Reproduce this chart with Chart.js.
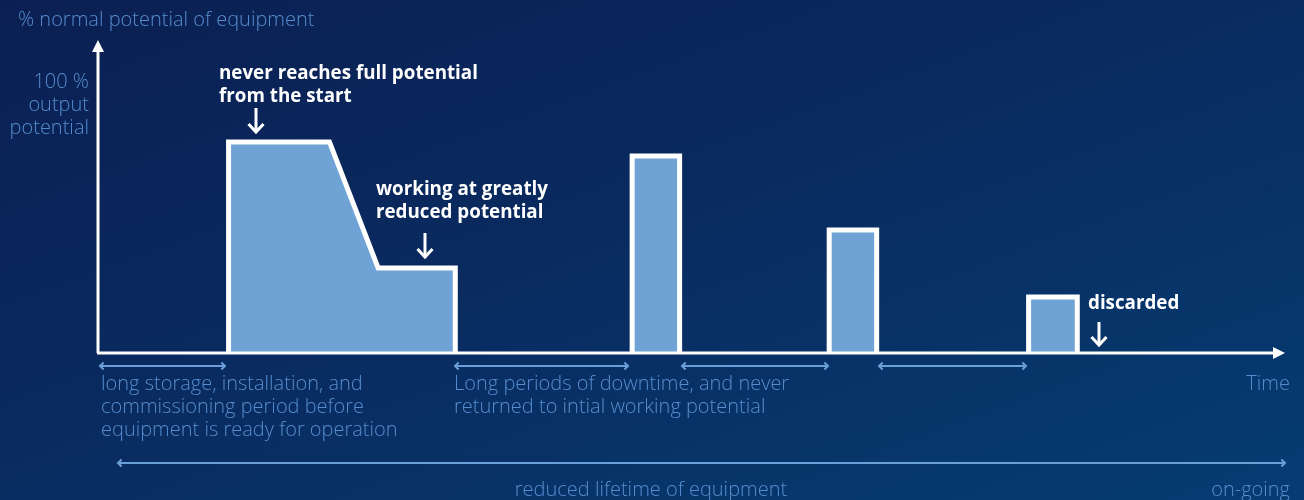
<!DOCTYPE html>
<html>
<head>
<meta charset="utf-8">
<script src="https://cdn.jsdelivr.net/npm/chart.js@4"></script>
<style>
  html, body { margin: 0; padding: 0; }
  body {
    width: 1304px; height: 500px; overflow: hidden;
    background: linear-gradient(160deg, #0b1f52 0%, #092c61 50%, #053d72 100%);
  }
  #wrap { position: relative; width: 1304px; height: 500px; }
</style>
</head>
<body>
<div id="wrap"><canvas id="chart" width="1304" height="500"></canvas></div>
<script>
// ---------------- data ----------------
// x = time (0..100 along the axis), y = % of normal potential (100 = full output)
const firstX = [11, 11, 19.5, 23.6, 30.1, 30.1];
const firstY = [0, 77.9, 77.9, 31.4, 31.4, 0];

const barStart  = [45.0, 61.6, 78.4];
const barEnd    = [49.0, 65.6, 82.5];
const barHeight = [72.7, 45.4, 20.7];

const yLabel   = "% normal potential of equipment";
const xLabel   = "Time";
const fullMark = ["100 %", "output", "potential"];

const notes = [
  { lines: ["never reaches full potential", "from the start"], x: 219, y: 74, arrowX: 256, arrowY: [108, 132] },
  { lines: ["working at greatly", "reduced potential"],        x: 376, y: 190, arrowX: 425, arrowY: [233, 257] },
  { lines: ["discarded"],                                      x: 1088, y: 304, arrowX: 1099, arrowY: [322, 345] },
];

const periods = [
  { from: 100, to: 225, text: ["long storage, installation, and", "commissioning period before", "equipment is ready for operation"], tx: 101 },
  { from: 455, to: 628, text: ["Long periods of downtime, and never", "returned to intial working potential"], tx: 454 },
  { from: 682, to: 828, text: [] },
  { from: 879, to: 1026, text: [] },
];

// ---------------- helpers ----------------
const FILL = "#6fa3d6";
const LIGHT = "#568ccd";
const ARROW = "#6a9fd8";

const shape = (xs, ys) => xs.map((x, i) => ({ x, y: ys[i] }));
const barShape = (i) => shape(
  [barStart[i], barStart[i], barEnd[i], barEnd[i]],
  [0, barHeight[i], barHeight[i], 0]
);

const ds = (data) => ({
  data, showLine: true, fill: "origin",
  backgroundColor: FILL, borderColor: "#ffffff", borderWidth: 5,
  borderJoinStyle: "miter", pointRadius: 0, tension: 0
});

const chevron = (ctx, x, y, dir, s) => {
  // dir: angle in radians the arrow points to
  ctx.beginPath();
  ctx.moveTo(x - s * Math.cos(dir - 0.75), y - s * Math.sin(dir - 0.75));
  ctx.lineTo(x, y);
  ctx.lineTo(x - s * Math.cos(dir + 0.75), y - s * Math.sin(dir + 0.75));
  ctx.stroke();
};

const decor = {
  id: "decor",
  afterDatasetsDraw(chart) {
    const { ctx, chartArea: a } = chart;
    ctx.save();

    // axes with arrows
    ctx.strokeStyle = "#fff"; ctx.fillStyle = "#fff"; ctx.lineWidth = 3;
    ctx.beginPath();
    ctx.moveTo(a.left, a.bottom); ctx.lineTo(a.left, a.top + 10);
    ctx.moveTo(a.left - 1, a.bottom); ctx.lineTo(a.right - 10, a.bottom);
    ctx.stroke();
    ctx.beginPath();
    ctx.moveTo(a.left, a.top); ctx.lineTo(a.left - 6, a.top + 12); ctx.lineTo(a.left + 6, a.top + 12); ctx.closePath();
    ctx.fill();
    ctx.beginPath();
    ctx.moveTo(a.right, a.bottom); ctx.lineTo(a.right - 12, a.bottom - 6); ctx.lineTo(a.right - 12, a.bottom + 6); ctx.closePath();
    ctx.fill();

    // axis texts
    ctx.fillStyle = LIGHT;
    ctx.font = "300 20px 'Open Sans', Lato, sans-serif";
    ctx.textBaseline = "middle";
    ctx.textAlign = "left";
    ctx.fillText(yLabel, 18, 20, 300);
    ctx.textAlign = "right";
    fullMark.forEach((t, i) => ctx.fillText(t, 89, 82 + i * 23));
    ctx.fillText(xLabel, 1290, 384);
    ctx.fillText("on-going", 1290, 490, 82);
    ctx.textAlign = "center";
    ctx.fillText("reduced lifetime of equipment", 651, 490, 277);

    // period arrows + texts
    ctx.strokeStyle = ARROW; ctx.lineWidth = 2;
    periods.forEach(p => {
      ctx.beginPath(); ctx.moveTo(p.from, 366); ctx.lineTo(p.to, 366); ctx.stroke();
      chevron(ctx, p.from, 366, Math.PI, 5);
      chevron(ctx, p.to, 366, 0, 5);
      ctx.textAlign = "left";
      p.text.forEach((t, i) => ctx.fillText(t, p.tx, 384 + i * 23));
    });
    ctx.beginPath(); ctx.moveTo(118, 463); ctx.lineTo(1285, 463); ctx.stroke();
    chevron(ctx, 118, 463, Math.PI, 5);
    chevron(ctx, 1285, 463, 0, 5);

    // bold notes with down arrows
    ctx.fillStyle = "#fff"; ctx.strokeStyle = "#fff";
    ctx.font = "bold 18.8px 'Open Sans', 'Noto Sans', sans-serif";
    ctx.textAlign = "left";
    notes.forEach(n => {
      n.lines.forEach((t, i) => ctx.fillText(t, n.x, n.y + i * 23));
      ctx.lineWidth = 3;
      ctx.beginPath(); ctx.moveTo(n.arrowX, n.arrowY[0]); ctx.lineTo(n.arrowX, n.arrowY[1] - 1); ctx.stroke();
      chevron(ctx, n.arrowX, n.arrowY[1], Math.PI / 2, 11);
    });

    ctx.restore();
  }
};

new Chart(document.getElementById("chart"), {
  type: "line",
  data: {
    datasets: [ds(shape(firstX, firstY)), ds(barShape(0)), ds(barShape(1)), ds(barShape(2))]
  },
  options: {
    responsive: false, animation: false,
    layout: { padding: { left: 98, right: 19, top: 40, bottom: 147 } },
    scales: {
      x: { type: "linear", min: 0, max: 100, display: false },
      y: { min: 0, max: 115.5, display: false }
    },
    plugins: { legend: { display: false }, tooltip: { enabled: false } }
  },
  plugins: [decor]
});
</script>
</body>
</html>
